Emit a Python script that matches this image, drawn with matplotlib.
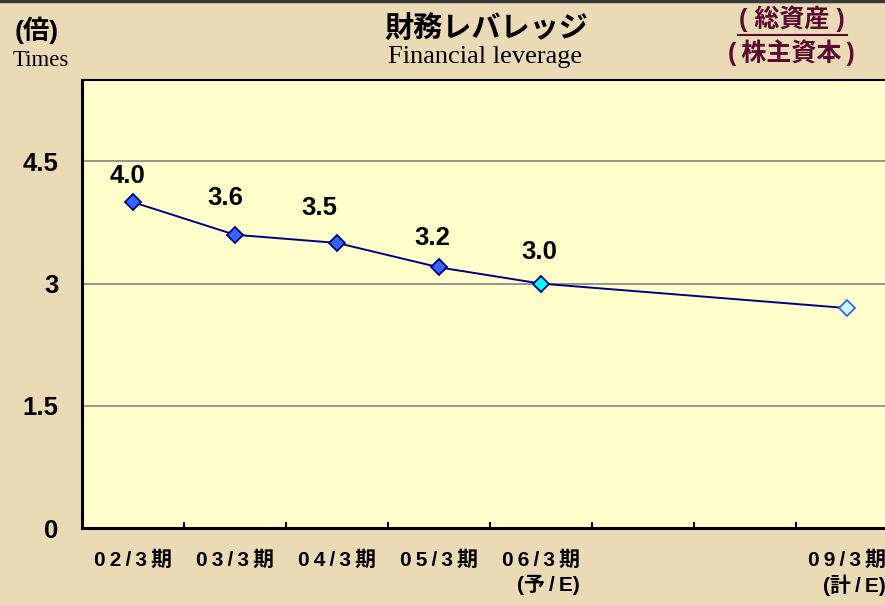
import matplotlib
matplotlib.use("Agg")
import matplotlib.pyplot as plt
from matplotlib.lines import Line2D

# ---- data ----
categories = ["02/3期", "03/3期", "04/3期", "05/3期", "06/3期\n(予/E)", "", "", "09/3期\n(計/E)"]
x_idx = [0, 1, 2, 3, 4, 7]
values = [4.0, 3.6, 3.5, 3.2, 3.0, 2.7]
value_labels = ["4.0", "3.6", "3.5", "3.2", "3.0", ""]
y_ticks = [0, 1.5, 3, 4.5]
y_tick_labels = ["0", "1.5", "3", "4.5"]

# ---- styles ----
BG = "#EBDAB6"
PLOT_BG = "#FFFFCC"
LINE = "#000080"
MAROON = "#5A0A30"
num_font = ["Liberation Sans", "Noto Sans CJK JP", "DejaVu Sans"]
jp_font = ["Noto Sans CJK JP", "DejaVu Sans"]
serif_font = ["Liberation Serif", "DejaVu Serif"]
label_offsets = [(-6, 26), (-10, 37), (-18, 35), (-7, 29), (-2, 32), (0, 0)]
face_colors = ["#3366FF", "#3366FF", "#3366FF", "#3366FF", "#00FFFF", "#CCFFFF"]
edge_colors = ["#000080", "#000080", "#000080", "#000080", "#000080", "#3366FF"]


def spaced(s):
    out = []
    for line in s.split("\n"):
        core = line.strip("()")
        sp = "\u2009".join(core)
        if line.startswith("("):
            sp = "(" + sp + ")"
        out.append(sp)
    return "\n".join(out)


W, H = 885, 605
fig = plt.figure(figsize=(W / 100, H / 100), dpi=100)
fig.patch.set_facecolor(BG)

left, right, top, bottom = 82, 898, 80, 528
ax = fig.add_axes([left / W, 1 - bottom / H, (right - left) / W, (bottom - top) / H])
ax.set_facecolor(PLOT_BG)
ax.set_xlim(-0.5, len(categories) - 0.5)
ax.set_ylim(0, 5.5)

# grid
for yv in y_ticks[1:]:
    ax.axhline(yv, color="#8C8C8C", lw=1.3, zorder=1)

# line + markers
ax.plot(x_idx, values, color=LINE, lw=1.4, zorder=2)
for xi, v, fc, ec in zip(x_idx, values, face_colors, edge_colors):
    ax.plot([xi], [v], marker="D", ms=8.5, mfc=fc, mec=ec, mew=1.3, ls="none", zorder=3)

for xi, v, lab, off in zip(x_idx, values, value_labels, label_offsets):
    if lab:
        ax.annotate(lab, (xi, v), xytext=off, textcoords="offset pixels",
                    ha="center", va="center", fontsize=18.5, fontweight="bold",
                    family=num_font, color="black", zorder=4)

# y axis
ax.set_yticks(y_ticks)
ax.set_yticklabels(y_tick_labels, family=num_font, fontweight="bold", fontsize=18.5)
ax.tick_params(axis="y", length=0, pad=17)

# x axis: tick marks at boundaries, labels at centers
ax.set_xticks([i + 0.5 for i in range(len(categories))])
ax.set_xticklabels([])
ax.tick_params(axis="x", which="major", direction="in", length=4, width=1.5, color="black")
ax.set_xticks(list(range(len(categories))), minor=True)
ax.set_xticklabels([spaced(c) for c in categories], minor=True, family=num_font,
                   fontweight="bold", fontsize=15, multialignment="right", linespacing=1.3)
ax.tick_params(axis="x", which="minor", length=0, pad=16)

for side in ["left", "bottom"]:
    ax.spines[side].set_linewidth(2.2)
    ax.spines[side].set_color("black")
ax.spines["top"].set_linewidth(1.5)
ax.spines["right"].set_visible(False)

# texts
fig.text(486 / W, 1 - 28 / H, "財務レバレッジ", family=jp_font, fontweight="bold",
         fontsize=21, ha="center", va="center")
fig.text(485 / W, 1 - 57 / H, "Financial leverage", family=serif_font,
         fontsize=19, ha="center", va="center")
fig.text(37 / W, 1 - 30 / H, "(倍)", family=num_font, fontweight="bold",
         fontsize=19, ha="center", va="center")
fig.text(41 / W, 1 - 60 / H, "Times", family=serif_font,
         fontsize=16.5, ha="center", va="center")
fig.text(792 / W, 1 - 19 / H, "( 総資産 )", family=num_font, fontweight="bold",
         fontsize=18, ha="center", va="center", color=MAROON)
fig.text(791 / W, 1 - 53 / H, "(\u2009株主資本\u2009)", family=num_font, fontweight="bold",
         fontsize=18, ha="center", va="center", color=MAROON)
fig.add_artist(Line2D([738 / W, 847 / W], [1 - 35 / H, 1 - 35 / H], color=MAROON, lw=1.5))
fig.add_artist(Line2D([0, 1], [1 - 1 / H, 1 - 1 / H], color="#3A3A3A", lw=2.5))

fig.savefig("out.png", dpi=100, facecolor=BG)
